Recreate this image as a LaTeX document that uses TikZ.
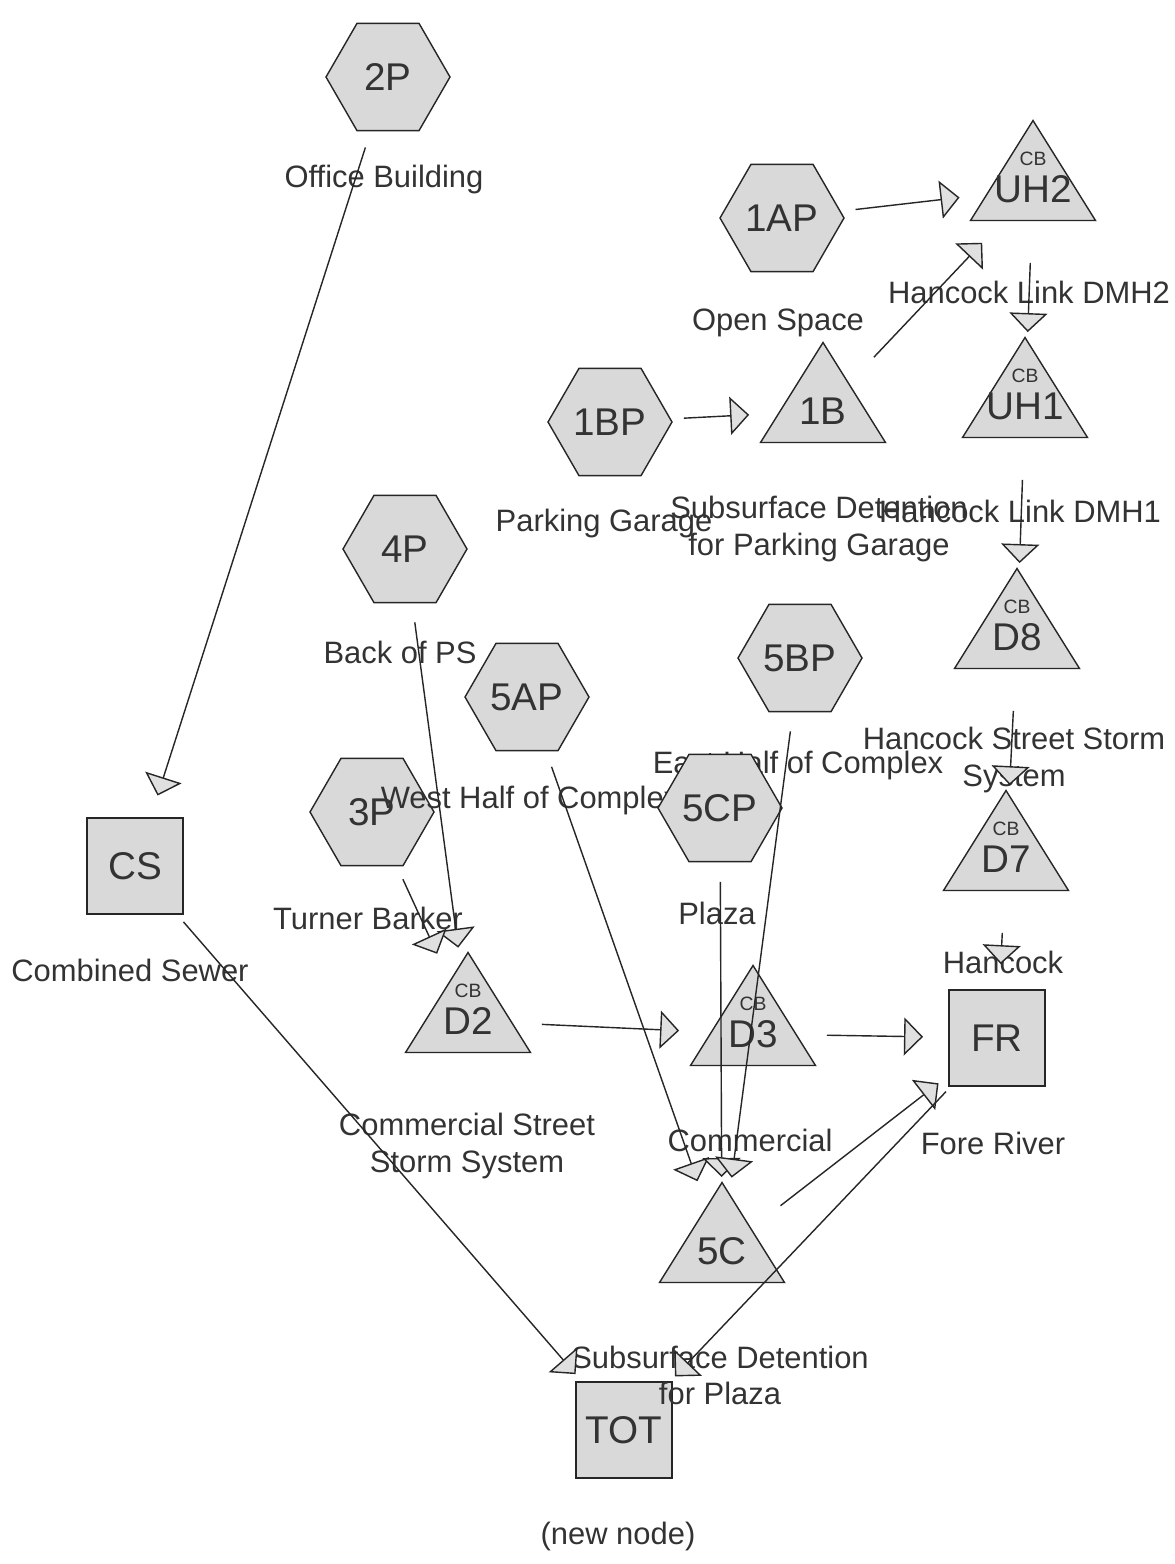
\documentclass[tikz,border=0pt]{standalone}
\usepackage{fontspec}
\setmainfont{Liberation Sans}
\usetikzlibrary{shapes.geometric,arrows.meta}

% small "CB" tag set above a reach name
\newcommand\cbtag[1]{\ooalign{\hfil\raisebox{21pt}{\fontsize{11}{12}\selectfont CB}\hfil\cr#1\cr}}

\begin{document}
\begin{tikzpicture}[x=0.02cm,y=-0.02cm]
\tikzstyle{every node}=[text=black!80,inner sep=0pt]
\tikzstyle{big}=[font=\fontsize{22}{24}\selectfont,text height=15.75pt,text depth=0pt]
\tikzstyle{subcat}=[big,regular polygon,regular polygon sides=6,minimum size=2.48cm,draw=black!85,line width=0.8pt,fill=black!15]
\tikzstyle{link}=[big,rectangle,minimum size=1.92cm,draw=black!85,line width=0.8pt,fill=black!15]
\tikzstyle{reach}=[big,rectangle,minimum width=2.56cm,minimum height=2.8cm,
  path picture={\filldraw[fill=black!15,draw=black!85,line width=0.8pt]
    ([yshift=-0.03cm]path picture bounding box.north)
    -- ([shift={(0.03cm,-2.03cm)}]path picture bounding box.north west)
    -- ([shift={(-0.03cm,-2.03cm)}]path picture bounding box.north east) -- cycle;}]
\tikzstyle{lbl}=[font=\fontsize{17.6}{20.5}\selectfont,align=center]
\tikzstyle{flow}=[draw=black!85,line width=0.8pt,shorten <=1.48cm,shorten >=1.48cm,
  -{Triangle[length=0.38cm,width=0.76cm,fill=black!12]}]

\useasboundingbox (0,0) rectangle (1175,1564);
\fill[white] (0,0) rectangle (1175,1564);

% subcatchments
\node[subcat] (2P) at (388,77) {2P};
\node[subcat] (1AP) at (782,218) {1AP};
\node[subcat] (1BP) at (610,422) {1BP};
\node[subcat] (4P) at (405,549) {4P};
\node[subcat] (5AP) at (527,697) {5AP};
\node[subcat] (5BP) at (800,658) {5BP};
\node[subcat] (3P) at (372,812) {3P};

% reaches
\node[reach] (UH2) at (1033,189) {\cbtag{UH2}};
\node[reach] (UH1) at (1025,406) {\cbtag{UH1}};
\node[reach] (1B) at (823,411) {1B};
\node[reach] (D8) at (1017,637) {\cbtag{D8}};
\node[reach] (D7) at (1006,859) {\cbtag{D7}};
\node[reach] (D2) at (468,1021) {\cbtag{D2}};
\node[reach] (D3) at (753,1034) {\cbtag{D3}};
\node[reach] (5C) at (722,1251) {5C};

% links
\node[link] (CS) at (135,866) {CS};
\node[link] (FR) at (997,1038) {FR};
\node[link] (TOT) at (624,1430) {TOT};

% names under the icons
\node[lbl] (2P-txt) at (384,180) {Office Building};
\node[lbl] (1AP-txt) at (778,323) {Open Space};
\node[lbl] (1BP-txt) at (604,524) {Parking Garage};
\node[lbl] (4P-txt) at (400,652) {Back of PS};
\node[lbl] (3P-txt) at (368,918) {Turner Barker};
\node[lbl] (5AP-txt) at (530,800) {West Half of Complex};
\node[lbl] (5BP-txt) at (798,765) {East Half of Complex};
\node[subcat] (5CP) at (720,808) {5CP};
\node[lbl] (5CP-txt) at (717,913) {Plaza};
\node[lbl] (UH2-txt) at (1029,292) {Hancock Link DMH2};
\node[lbl] (UH1-txt) at (1020,511) {Hancock Link DMH1};
\node[lbl] (1B-txt) at (819,529) {Subsurface Detention\\for Parking Garage};
\node[lbl] (D8-txt) at (1014,760) {Hancock Street Storm\\System};
\node[lbl] (D7-txt) at (1003,962) {Hancock};
\node[lbl] (D2-txt) at (467,1146) {Commercial Street\\Storm System};
\node[lbl] (D3-txt) at (750,1140) {Commercial};
\node[lbl] (5C-txt) at (720,1375) {Subsurface Detention\\for Plaza};
\node[lbl] (CS-txt) at (130,970) {Combined Sewer};
\node[lbl] (FR-txt) at (993,1143) {Fore River};
\node[lbl] (TOT-txt) at (618,1536) {(new node)};

\draw[flow] (2P.center) -- (CS.center);
\draw[flow] (1AP.center) -- (UH2.center);
\draw[flow] (1BP.center) -- (1B.center);
\draw[flow] (1B.center) -- (UH2.center);
\draw[flow] (UH2.center) -- (UH1.center);
\draw[flow] (UH1.center) -- (D8.center);
\draw[flow] (D8.center) -- (D7.center);
\draw[flow] (D7.center) -- (FR.center);
\draw[flow] (4P.center) -- (D2.center);
\draw[flow] (3P.center) -- (D2.center);
\draw[flow] (D2.center) -- (D3.center);
\draw[flow] (D3.center) -- (FR.center);
\draw[flow] (5AP.center) -- (5C.center);
\draw[flow] (5CP.center) -- (5C.center);
\draw[flow] (5BP.center) -- (5C.center);
\draw[flow] (5C.center) -- (FR.center);
\draw[flow] (FR.center) -- (TOT.center);
\draw[flow] (CS.center) -- (TOT.center);
\end{tikzpicture}
\end{document}
